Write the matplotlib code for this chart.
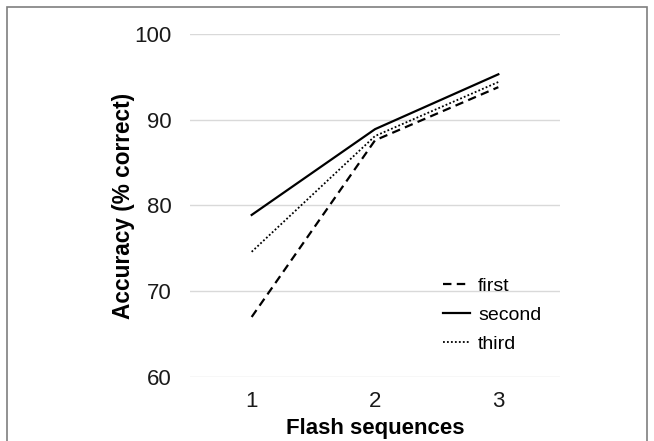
import matplotlib.pyplot as plt
from matplotlib.patches import Rectangle

plt.rcParams['font.family'] = ['Liberation Sans', 'DejaVu Sans']

# data
sequences = [1, 2, 3]
first = [67.0, 87.6, 93.8]
second = [78.9, 88.9, 95.3]
third = [74.6, 88.1, 94.4]
yticks = [60, 70, 80, 90, 100]

fig = plt.figure(figsize=(6.54, 4.41), dpi=100)
ax = fig.add_axes([190/654, 1 - 377/441, 370/654, (377 - 34)/441])

# grey frame round the figure (bottom runs off the image)
fig.patches.append(Rectangle((7/654, -0.05), (647 - 7)/654, 1.05 - 7/441,
                             transform=fig.transFigure, fill=False,
                             edgecolor='#7f7f7f', linewidth=1.2))

ax.plot(sequences, first, color='black', lw=1.6, ls=(0, (3.8, 2.4)), label='first')
ax.plot(sequences, second, color='black', lw=1.6, ls='-', label='second')
ax.plot(sequences, third, color='black', lw=1.3, ls=(0, (1, 1.2)), label='third')

ax.set_xlim(0.5, 3.5)
ax.set_ylim(60, 100)
ax.set_xticks(sequences)
ax.set_yticks(yticks)
ax.grid(axis='y', color='#d9d9d9', lw=1)
ax.set_axisbelow(True)
for s in ax.spines.values():
    s.set_visible(False)
ax.tick_params(length=0, labelsize=16, colors='#1a1a1a')
ax.tick_params(axis='y', pad=13.5)
ax.tick_params(axis='x', pad=10)

ax.set_ylabel('Accuracy (% correct)', fontsize=16.3, fontweight='bold', labelpad=-1)
ax.set_xlabel('Flash sequences', fontsize=16, fontweight='bold', labelpad=4.5)

ax.legend(loc='center left', bbox_to_anchor=(0.684, 0.181), frameon=False,
          fontsize=14, handlelength=1.4, handletextpad=0.4, labelspacing=0.58,
          borderpad=0, borderaxespad=0)

fig.savefig('out.png', dpi=100)
